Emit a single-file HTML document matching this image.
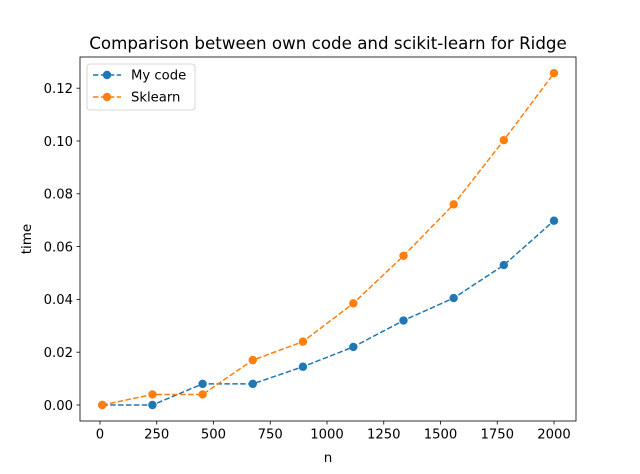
<!DOCTYPE html>
<html><head><meta charset="utf-8"><style>
html,body{margin:0;padding:0;background:#fff;}
svg{display:block;font-family:"DejaVu Sans","Liberation Sans",sans-serif;}
</style></head><body>
<svg id="chart" width="640" height="474" viewBox="0 0 640 474">
<rect x="0" y="0" width="640" height="474" fill="#fff"/>
<text x="328" y="49" font-size="16.7" text-anchor="middle">Comparison between own code and scikit-learn for Ridge</text>
<g id="xticks"></g><g id="yticks"></g><g id="series"></g>
<rect x="80" y="57" width="496" height="364" fill="none" stroke="#000" stroke-width="0.8"/>
<text x="328" y="462" font-size="13.5" text-anchor="middle">n</text>
<text x="31" y="239" font-size="13.5" text-anchor="middle" transform="rotate(-90 31 239)">time</text>
<g>
<rect x="87" y="64" width="108" height="46" rx="3" fill="#fff" stroke="#ccc" stroke-width="0.8"/>
<g>
<line x1="93" y1="75" x2="121" y2="75" stroke="#1f77b4" stroke-width="1.5" stroke-dasharray="5.5,2.4"/>
<circle cx="107" cy="75" r="4.2" fill="#1f77b4"/>
<text x="131" y="79.5" font-size="13.2">My code</text></g>
<g>
<line x1="93" y1="97" x2="121" y2="97" stroke="#ff7f0e" stroke-width="1.5" stroke-dasharray="5.5,2.4"/>
<circle cx="107" cy="97" r="4.2" fill="#ff7f0e"/>
<text x="131" y="101.5" font-size="13.2">Sklearn</text></g>
</g>
</svg>
<script>
const nValues=[10,231,452,673,894,1116,1337,1558,1779,2000];
const myCode=[0,0,0.008,0.008,0.0145,0.022,0.032,0.0405,0.053,0.0698];
const sklearn=[0,0.004,0.004,0.017,0.024,0.0385,0.0565,0.076,0.1003,0.1257];
const xTickVals=[0,250,500,750,1000,1250,1500,1750,2000];
const yTickVals=[0,0.02,0.04,0.06,0.08,0.10,0.12];
const yTickLabels=["0.00","0.02","0.04","0.06","0.08","0.10","0.12"];
const NS="http://www.w3.org/2000/svg";
function xs(v){return 100+v*0.227;}
function ys(v){return 405-v*2640;}
function mk(t,a,p){const e=document.createElementNS(NS,t);for(const k in a)e.setAttribute(k,a[k]);p.appendChild(e);return e;}
const xg=document.getElementById('xticks');
xTickVals.forEach(v=>{const x=xs(v);
 const l=mk('line',{x1:x,x2:x,y1:421,y2:424.5,stroke:'#000','stroke-width':0.8},xg);
 
 
 const t=mk('text',{x:x,y:438.5,'font-size':13.2,'text-anchor':'middle'},xg);t.textContent=v;
 
 });
const yg=document.getElementById('yticks');
yTickVals.forEach((v,i)=>{const y=ys(v);
 const l=mk('line',{x1:76.5,x2:80,y1:y,y2:y,stroke:'#000','stroke-width':0.8},yg);
 
 
 const t=mk('text',{x:73,y:y+4.8,'font-size':13.2,'text-anchor':'end'},yg);t.textContent=yTickLabels[i];
 
 });
const sg=document.getElementById('series');
[[myCode,'#1f77b4','my-code'],[sklearn,'#ff7f0e','sklearn']].forEach(([d,c,n])=>{
 const g=mk('g',{},sg);
 
 
 const pts=d.map((v,i)=>xs(nValues[i])+','+ys(v)).join(' ');
 const pl=mk('polyline',{points:pts,fill:'none',stroke:c,'stroke-width':1.5,'stroke-dasharray':'5.5,2.4'},g);
 
 
 d.forEach((v,i)=>{const p=mk('circle',{cx:xs(nValues[i]),cy:ys(v),r:4.2,fill:c},g);
  
  });
});
</script>
</body></html>
